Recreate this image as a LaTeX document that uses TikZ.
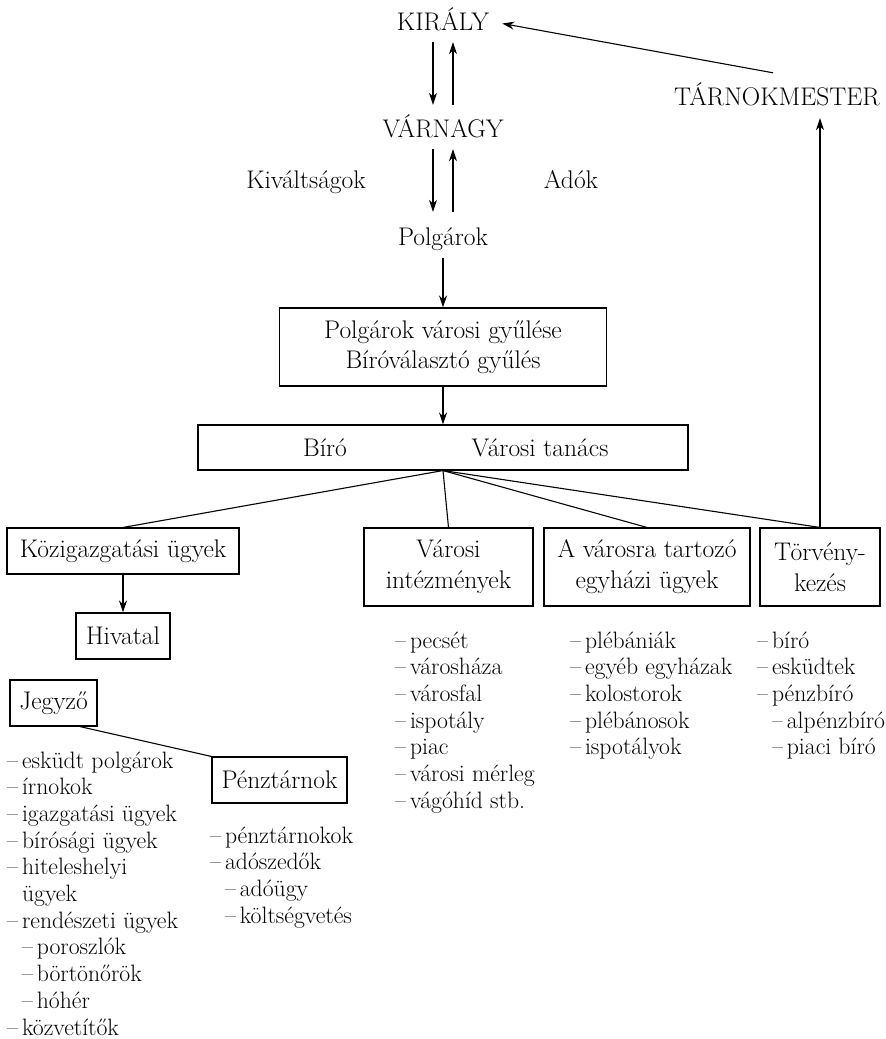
\documentclass[tikz,border=0pt]{standalone}
\usepackage{fontspec}
\usetikzlibrary{arrows.meta,calc}
\newcommand\lsind{\hphantom{–\,}}
\begin{document}
\begin{tikzpicture}[x=1pt,y=-1pt,
  every node/.style={font=\fontsize{25.5}{26.7}\selectfont},
  lbl/.style={inner xsep=6pt, inner ysep=8pt, text height=16pt, text depth=5pt},
  box/.style={draw, line width=1.1pt, align=center, inner sep=0pt},
  li/.style={anchor=base west, inner sep=0pt, font=\fontsize{23.7}{26.7}\selectfont},
  arr/.style={-{Stealth[length=12pt,width=8pt]}, line width=1.1pt},
  ln/.style={line width=1.1pt}]
\useasboundingbox (0,0) rectangle (886,1039);

% top labels
\node[lbl] (kiraly) at (443,24.5) {KIRÁLY};
\node[lbl] (varnagy) at (443,131.5) {VÁRNAGY};
\node[lbl] (polg) at (443,239.5) {Polgárok};
\node[lbl] (kivalt) at (306,182.5) {Kiváltságok};
\node[lbl] (ado) at (571,182.5) {Adók};
\node[lbl] (tarnok) at (777,99.5) {TÁRNOKMESTER};

% boxes
\node[box, minimum width=327, minimum height=78] (gyules) at (443,347) {Polgárok városi gyűlése\\[3.3pt]Bíróválasztó gyűlés};
\node[box, minimum width=490, minimum height=45] (tanacs) at (443,447.5) {};
\node (biro) at (325,447.5) {Bíró};
\node (vt) at (540,447.5) {Városi tanács};
\node[box, minimum width=232, minimum height=46] (kozig) at (123,551) {Közigazgatási ügyek};
\node[box, minimum width=94, minimum height=46] (hivatal) at (123,636) {Hivatal};
\node[box, minimum width=169, minimum height=78] (varosi) at (448.5,567) {Városi\\[4.3pt]intézmények};
\node[box, minimum width=206, minimum height=78] (egyhazi) at (647,567) {A városra tartozó\\[4.3pt]egyházi ügyek};
\node[box, minimum width=120, minimum height=78] (torveny) at (820,567) {Törvény-\\[4.3pt]kezés};
\node[box, minimum width=87, minimum height=46] (jegyzo) at (53.5,703) {Jegyző};
\node[box, minimum width=135, minimum height=46] (penztar) at (279.5,780) {Pénztárnok};

% arrows at top
\draw[arr] ($(kiraly.south)+(-10,-1)$) -- ($(varnagy.north)+(-10,-8)$);
\draw[arr] ($(varnagy.north)+(10,-8)$) -- ($(kiraly.south)+(10,-1)$);
\draw[arr] ($(varnagy.south)+(-10,-1)$) -- ($(polg.north)+(-10,-9)$);
\draw[arr] ($(polg.north)+(10,-9)$) -- ($(varnagy.south)+(10,-1)$);
\draw[arr] ($(tarnok.north)+(-4,-8)$) -- ($(kiraly.east)+(7,-1)$);
\draw[arr] (polg.south) -- (gyules.north);
\draw[arr] (gyules.south) -- (tanacs.north);

% tree
\draw[ln] (tanacs.south) -- (kozig.north);
\draw[ln] (tanacs.south) -- (varosi.north);
\draw[ln] (tanacs.south) -- (egyhazi.north);
\draw[ln] (tanacs.south) -- (torveny.north);
\draw[arr] (kozig.south) -- (hivatal.north);
\draw[arr] (torveny.north) -- (torveny.north |- tarnok.south);
\draw[ln] ($(jegyzo.south)!0.6!(jegyzo.south east)$) -- (penztar.north west);

% lists
\foreach \t [count=\i] in {–\,pecsét, –\,városháza, –\,városfal, –\,ispotály, –\,piac, –\,városi mérleg, –\,vágóhíd stb.}
  \node[li] (vi\i) at (395,{648+26.7*(\i-1)}) {\t};
\foreach \t [count=\i] in {–\,plébániák, –\,egyéb egyházak, –\,kolostorok, –\,plébánosok, –\,ispotályok}
  \node[li] (eg\i) at (570,{648+26.7*(\i-1)}) {\t};
\foreach \t [count=\i] in {–\,bíró, –\,esküdtek, –\,pénzbíró, \lsind–\,alpénzbíró, \lsind–\,piaci bíró}
  \node[li] (tv\i) at (757,{648+26.7*(\i-1)}) {\t};
\foreach \t [count=\i] in {–\,esküdt polgárok, –\,írnokok, –\,igazgatási ügyek, –\,bírósági ügyek, –\,hiteleshelyi, \lsind ügyek, –\,rendészeti ügyek, \lsind–\,poroszlók, \lsind–\,börtönőrök, \lsind–\,hóhér, –\,közvetítők}
  \node[li] (jg\i) at (7,{768+26.7*(\i-1)}) {\t};
\foreach \t [count=\i] in {–\,pénztárnokok, –\,adószedők, \lsind–\,adóügy, \lsind–\,költségvetés}
  \node[li] (pt\i) at (210,{843+26.7*(\i-1)}) {\t};
\end{tikzpicture}
\end{document}
